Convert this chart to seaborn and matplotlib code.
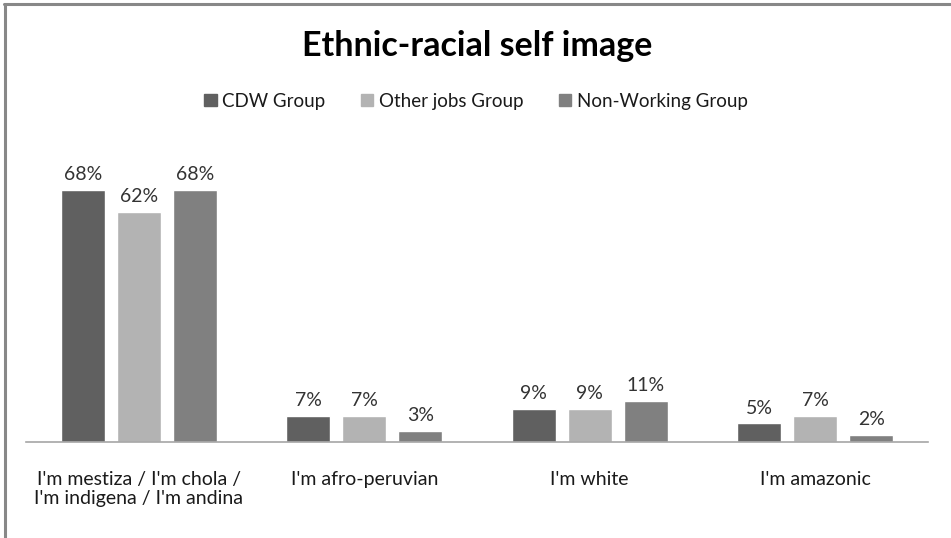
import matplotlib
matplotlib.use("Agg")
import matplotlib.pyplot as plt
from matplotlib.lines import Line2D
import seaborn as sns
import pandas as pd

categories = ["I'm mestiza / I'm chola /\nI'm indigena / I'm andina",
              "I'm afro-peruvian", "I'm white", "I'm amazonic"]
groups = ["CDW Group", "Other jobs Group", "Non-Working Group"]
cdw = [68, 7, 9, 5]
other_jobs = [62, 7, 9, 7]
non_working = [68, 3, 11, 2]
colors = ["#606060", "#b3b3b3", "#808080"]

sns.set_theme(style="white")
plt.rcParams["font.family"] = ["Lato", "DejaVu Sans"]

df = pd.DataFrame({
    "category": categories * 3,
    "group": [g for g in groups for _ in categories],
    "value": cdw + other_jobs + non_working,
})

fig = plt.figure(figsize=(9.51, 5.38), dpi=100)
W, H = 951, 538
ax = fig.add_axes([26 / W, 1 - 442 / H, (928 - 26) / W, (442 - 150) / H])

sns.barplot(data=df, x="category", y="value", hue="group", hue_order=groups,
            palette=colors, width=0.745, gap=0.215, saturation=1, ax=ax,
            legend=False, errorbar=None)

ax.set_ylim(0, 68 * 292 / 252)
ax.set_xlim(-0.5, 3.5)
ax.set_xlabel("")
ax.set_ylabel("")
ax.set_yticks([])
for s in ["top", "right", "left"]:
    ax.spines[s].set_visible(False)
ax.spines["bottom"].set_color("#a6a6a6")
ax.spines["bottom"].set_linewidth(1.2)
ax.tick_params(axis="x", length=0, pad=21, labelsize=14, labelcolor="#1a1a1a")
for t in ax.get_xticklabels():
    t.set_linespacing(1.15)

for cont in ax.containers:
    ax.bar_label(cont, labels=[f"{v:.0f}%" for v in cont.datavalues],
                 padding=5, fontsize=14, color="#333333")

fig.text(477 / W, 1 - 56 / H, "Ethnic-racial self image", ha="center", va="baseline",
         fontsize=24.5, fontweight="bold", color="black")

handles = [plt.Rectangle((0, 0), 1, 1, color=c) for c in colors]
fig.legend(handles, groups, loc="center", bbox_to_anchor=(476 / W, 1 - 101 / H),
           ncol=3, frameon=False, fontsize=13.5, handlelength=0.65, handleheight=0.65,
           handletextpad=0.3, columnspacing=1.9, labelcolor="#1a1a1a")

# frame edges
fig.add_artist(Line2D([4.5 / W, 4.5 / W], [0, 1 - 3.5 / H], color="#888888", lw=2.2,
                      transform=fig.transFigure))
fig.add_artist(Line2D([3.5 / W, 1], [1 - 3.5 / H, 1 - 3.5 / H], color="#888888", lw=2.2,
                      transform=fig.transFigure))

fig.savefig("out.png", dpi=100, facecolor="white")
